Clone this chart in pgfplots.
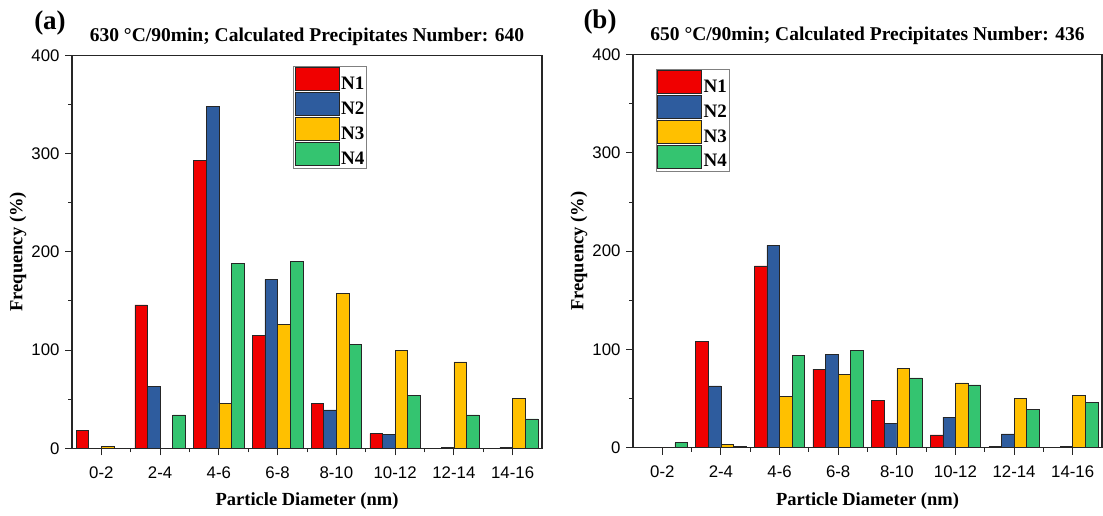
\documentclass[border=0pt]{standalone}
\usepackage{pgfplots}
\pgfplotsset{compat=1.18}
\usepackage{fontspec}
\setmainfont{Liberation Serif}
\newfontfamily\arial{Liberation Sans}
\definecolor{cN1}{RGB}{240,0,0}
\definecolor{cN2}{RGB}{46,92,158}
\definecolor{cN3}{RGB}{255,192,0}
\definecolor{cN4}{RGB}{52,196,112}
\pgfplotsset{
  panel/.style={
    scale only axis, width=470pt, height=393pt, anchor=south west,
    xmin=-0.5, xmax=7.5, ymin=0, ymax=400,
    xtick={0,...,7}, xticklabels={0-2,2-4,4-6,6-8,8-10,10-12,12-14,14-16},
    minor xtick={0.5,1.5,...,6.5},
    ytick={0,100,200,300,400}, minor ytick={50,150,250,350},
    xtick pos=bottom, ytick pos=left, tick align=outside,
    major tick length=7pt, minor tick length=4pt,
    tick style={line width=1pt, color=black!85},
    axis line style={line width=1.2pt, color=black!85},
    ticklabel style={font=\arial\fontsize{16.8}{17}\selectfont},
    /pgf/number format/assume math mode=true,
    xticklabel style={yshift=-8pt},
    yticklabel style={xshift=-2pt},
    title style={font=\bfseries\fontsize{19.5}{20}\selectfont, at={(0.5,1)}, anchor=base, yshift=8pt},
    xlabel style={font=\bfseries\fontsize{18.5}{19}\selectfont, at={(axis description cs:0.5,-0.135)}, anchor=center},
    ylabel style={font=\bfseries\fontsize{18.5}{19}\selectfont, at={(axis description cs:-0.115,0.5)}, anchor=center},
    xlabel={Particle Diameter (nm)},
    ylabel={Frequency (\%)},
    legend style={draw=black!50, line width=0.8pt, fill=white,
      font=\bfseries\fontsize{19}{19}\selectfont,
      inner xsep=1pt, inner ysep=1pt, row sep=0pt,
      nodes={inner sep=1.5pt}},
    legend cell align=left,
  },
  bars/.style={ybar, bar width=0.215, bar shift=#1, draw=black!85, line width=0.6pt,
    legend image code/.code={\draw[##1, line width=0.8pt] (0pt,-7pt) rectangle (44pt,16pt);}},
}
\begin{document}
\begin{tikzpicture}
\useasboundingbox (0pt,0pt) rectangle (1103pt,515pt);

\begin{axis}[panel, at={(72pt,66.7pt)},
  title={630 \textdegree C/90min; Calculated Precipitates Number: 640},
  legend style={at={(0.471,0.973)}, anchor=north west}]
\addplot[bars=-0.3225, fill=cN1] coordinates {(0,18) (1,146) (2,293) (3,115) (4,46) (5,15) (6,0) (7,0)};
\addplot[bars=-0.1075, fill=cN2] coordinates {(0,0) (1,63) (2,348) (3,172) (4,39) (5,14) (6,1) (7,1)};
\addplot[bars=0.1075, fill=cN3] coordinates {(0,2) (1,0) (2,46) (3,126) (4,158) (5,100) (6,88) (7,51)};
\addplot[bars=0.3225, fill=cN4] coordinates {(0,0) (1,34) (2,188) (3,190) (4,106) (5,54) (6,34) (7,30)};
\legend{N1,N2,N3,N4}
\end{axis}

\begin{axis}[panel, at={(633pt,67.3pt)}, width=469pt,
  title={650 \textdegree C/90min; Calculated Precipitates Number: 436},
  legend style={at={(0.049,0.964)}, anchor=north west}]
\addplot[bars=-0.3225, fill=cN1] coordinates {(0,0) (1,108) (2,185) (3,80) (4,48) (5,13) (6,1) (7,0)};
\addplot[bars=-0.1075, fill=cN2] coordinates {(0,0) (1,63) (2,206) (3,95) (4,25) (5,31) (6,14) (7,1)};
\addplot[bars=0.1075, fill=cN3] coordinates {(0,0) (1,3) (2,52) (3,75) (4,81) (5,66) (6,50) (7,53)};
\addplot[bars=0.3225, fill=cN4] coordinates {(0,5) (1,1) (2,94) (3,99) (4,71) (5,64) (6,39) (7,46)};
\legend{N1,N2,N3,N4}
\end{axis}

\node[font=\bfseries\fontsize{27}{27}\selectfont] at (50pt,492pt) {(a)};
\node[font=\bfseries\fontsize{27}{27}\selectfont] at (600pt,492.5pt) {(b)};
\end{tikzpicture}
\end{document}
